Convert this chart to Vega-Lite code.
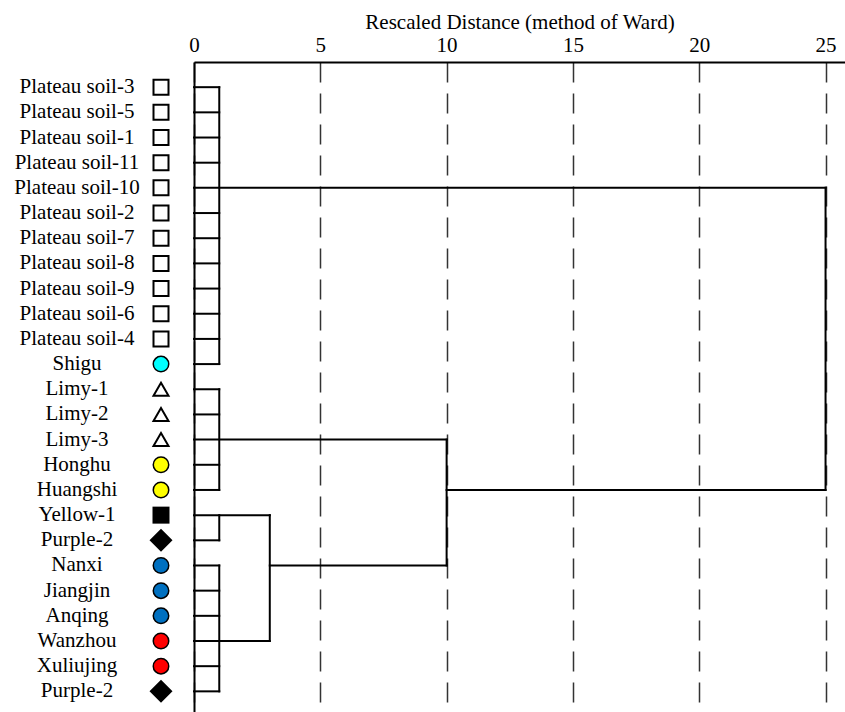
{
  "$schema": "https://vega.github.io/schema/vega-lite/v6.json",
  "padding": {"left": 14, "top": 11, "right": 0, "bottom": 0},
  "bounds": "flush",
  "spacing": 18,
  "config": {"view": {"stroke": null}, "font": "Liberation Serif"},
  "datasets": {
    "leaves": [
      {"row": 0, "name": "Plateau soil-3", "type": "plateau"},
      {"row": 1, "name": "Plateau soil-5", "type": "plateau"},
      {"row": 2, "name": "Plateau soil-1", "type": "plateau"},
      {"row": 3, "name": "Plateau soil-11", "type": "plateau"},
      {"row": 4, "name": "Plateau soil-10", "type": "plateau"},
      {"row": 5, "name": "Plateau soil-2", "type": "plateau"},
      {"row": 6, "name": "Plateau soil-7", "type": "plateau"},
      {"row": 7, "name": "Plateau soil-8", "type": "plateau"},
      {"row": 8, "name": "Plateau soil-9", "type": "plateau"},
      {"row": 9, "name": "Plateau soil-6", "type": "plateau"},
      {"row": 10, "name": "Plateau soil-4", "type": "plateau"},
      {"row": 11, "name": "Shigu", "type": "shigu"},
      {"row": 12, "name": "Limy-1", "type": "limy"},
      {"row": 13, "name": "Limy-2", "type": "limy"},
      {"row": 14, "name": "Limy-3", "type": "limy"},
      {"row": 15, "name": "Honghu", "type": "lake"},
      {"row": 16, "name": "Huangshi", "type": "lake"},
      {"row": 17, "name": "Yellow-1", "type": "yellow"},
      {"row": 18, "name": "Purple-2", "type": "purple"},
      {"row": 19, "name": "Nanxi", "type": "upper"},
      {"row": 20, "name": "Jiangjin", "type": "upper"},
      {"row": 21, "name": "Anqing", "type": "upper"},
      {"row": 22, "name": "Wanzhou", "type": "middle"},
      {"row": 23, "name": "Xuliujing", "type": "middle"},
      {"row": 24, "name": "Purple-2", "type": "purple"}
    ],
    "segments": [
      {"x": 0, "x2": 1, "y": 0, "y2": 0},
      {"x": 0, "x2": 1, "y": 1, "y2": 1},
      {"x": 0, "x2": 1, "y": 2, "y2": 2},
      {"x": 0, "x2": 1, "y": 3, "y2": 3},
      {"x": 0, "x2": 25, "y": 4, "y2": 4},
      {"x": 0, "x2": 1, "y": 5, "y2": 5},
      {"x": 0, "x2": 1, "y": 6, "y2": 6},
      {"x": 0, "x2": 1, "y": 7, "y2": 7},
      {"x": 0, "x2": 1, "y": 8, "y2": 8},
      {"x": 0, "x2": 1, "y": 9, "y2": 9},
      {"x": 0, "x2": 1, "y": 10, "y2": 10},
      {"x": 0, "x2": 1, "y": 11, "y2": 11},
      {"x": 0, "x2": 1, "y": 12, "y2": 12},
      {"x": 0, "x2": 1, "y": 13, "y2": 13},
      {"x": 0, "x2": 10, "y": 14, "y2": 14},
      {"x": 0, "x2": 1, "y": 15, "y2": 15},
      {"x": 0, "x2": 1, "y": 16, "y2": 16},
      {"x": 0, "x2": 3, "y": 17, "y2": 17},
      {"x": 0, "x2": 1, "y": 18, "y2": 18},
      {"x": 0, "x2": 1, "y": 19, "y2": 19},
      {"x": 0, "x2": 1, "y": 20, "y2": 20},
      {"x": 0, "x2": 1, "y": 21, "y2": 21},
      {"x": 0, "x2": 3, "y": 22, "y2": 22},
      {"x": 0, "x2": 1, "y": 23, "y2": 23},
      {"x": 0, "x2": 1, "y": 24, "y2": 24},
      {"x": 1, "x2": 1, "y": 0, "y2": 11},
      {"x": 1, "x2": 1, "y": 12, "y2": 16},
      {"x": 1, "x2": 1, "y": 17, "y2": 18},
      {"x": 1, "x2": 1, "y": 19, "y2": 24},
      {"x": 3, "x2": 3, "y": 17, "y2": 22},
      {"x": 3, "x2": 10, "y": 19, "y2": 19},
      {"x": 10, "x2": 10, "y": 14, "y2": 19},
      {"x": 10, "x2": 25, "y": 16, "y2": 16},
      {"x": 25, "x2": 25, "y": 4, "y2": 16}
    ]
  },
  "hconcat": [
    {
      "width": 102,
      "height": 651,
      "data": {"name": "leaves"},
      "mark": {"type": "text", "font": "Liberation Serif", "fontSize": 21, "color": "black", "align": "center", "baseline": "middle"},
      "encoding": {
        "y": {"field": "row", "type": "quantitative", "scale": {"domain": [-1, 24.86], "reverse": true, "nice": false, "zero": false}, "axis": null},
        "text": {"field": "name"}
      }
    },
    {
      "width": 30,
      "height": 651,
      "data": {"name": "leaves"},
      "mark": {"type": "point", "filled": true, "stroke": "black", "opacity": 1, "strokeOpacity": 1},
      "encoding": {
        "y": {"field": "row", "type": "quantitative", "scale": {"domain": [-1, 24.86], "reverse": true, "nice": false, "zero": false}, "axis": null},
        "shape": {"field": "type", "type": "nominal", "legend": null,
          "scale": {"domain": ["plateau", "shigu", "limy", "lake", "yellow", "purple", "upper", "middle"],
                    "range": ["square", "circle", "triangle-up", "circle", "square", "diamond", "circle", "circle"]}},
        "fill": {"field": "type", "type": "nominal", "legend": null,
          "scale": {"domain": ["plateau", "shigu", "limy", "lake", "yellow", "purple", "upper", "middle"],
                    "range": ["#ffffff", "#00ffff", "#ffffff", "#ffff00", "#000000", "#000000", "#0070c0", "#ff0000"]}},
        "size": {"field": "type", "type": "nominal", "legend": null,
          "scale": {"type": "ordinal", "domain": ["plateau", "shigu", "limy", "lake", "yellow", "purple", "upper", "middle"],
                    "range": [225, 240, 225, 240, 289, 529, 240, 240]}},
        "strokeWidth": {"field": "type", "type": "nominal", "legend": null,
          "scale": {"type": "ordinal", "domain": ["plateau", "shigu", "limy", "lake", "yellow", "purple", "upper", "middle"],
                    "range": [2, 1.5, 2, 1.5, 0, 0, 1.5, 1.5]}}
      }
    },
    {
      "width": 651,
      "height": 651,
      "data": {"name": "segments"},
      "mark": {"type": "rule", "color": "black", "strokeWidth": 2, "strokeCap": "square"},
      "encoding": {
        "x": {"field": "x", "type": "quantitative",
          "scale": {"domain": [0, 25.77], "nice": false, "zero": false},
          "axis": {"orient": "top", "values": [0, 5, 10, 15, 20, 25], "ticks": false,
            "domain": true, "domainColor": "black", "domainWidth": 2,
            "grid": true, "gridDash": [20, 11], "gridColor": "#333333", "gridWidth": 1.5,
            "labelFont": "Liberation Serif", "labelFontSize": 21, "labelColor": "black", "labelPadding": 7,
            "labelFlush": false,
            "title": "Rescaled Distance (method of Ward)", "titleFont": "Liberation Serif", "titleFontSize": 21,
            "titleFontWeight": "normal", "titleColor": "black", "titlePadding": 2}},
        "x2": {"field": "x2"},
        "y": {"field": "y", "type": "quantitative",
          "scale": {"domain": [-1, 24.86], "reverse": true, "nice": false, "zero": false},
          "axis": {"orient": "left", "domain": true, "domainColor": "black", "domainWidth": 2,
            "labels": false, "ticks": false, "grid": false, "title": null}},
        "y2": {"field": "y2"}
      }
    }
  ]
}
